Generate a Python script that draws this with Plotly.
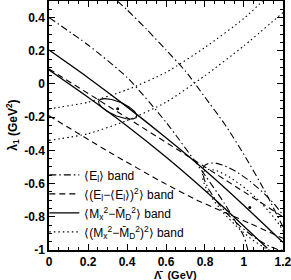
import numpy as np
import plotly.graph_objects as go

# ---- data ----
# <E_l> band (dash-dot)
el_left_x = [0.0, 0.2, 0.4, 0.6, 0.8, 0.9, 1.0, 1.02]
el_left_y = [0.40, 0.235, 0.04, -0.23, -0.55, -0.72, -0.92, -1.0]
el_right_x = [0.35, 0.4, 0.5, 0.6, 0.7, 0.8, 0.9, 1.0, 1.1, 1.2]
el_right_y = [0.50, 0.447, 0.33, 0.205, 0.077, -0.08, -0.24, -0.425, -0.63, -0.86]

# <(E_l-<E_l>)^2> band (dashed)
ev_upper_x = [0.0, 0.4, 0.8, 1.2]
ev_upper_y = [0.09, -0.204, -0.50, -0.80]
ev_lower_x = [0.0, 0.323, 0.585, 0.759, 1.03, 1.2]
ev_lower_y = [-0.192, -0.42, -0.594, -0.70, -0.84, -0.93]

# <M_x^2 - M_D^2> band (solid)
mx_upper_x = [0.0, 0.2, 0.4, 0.6, 0.8, 1.0, 1.2]
mx_upper_y = [0.204, 0.038, -0.138, -0.324, -0.52, -0.732, -0.954]
mx_lower_x = [0.0, 0.2, 0.4, 0.6, 0.8, 1.0, 1.12]
mx_lower_y = [0.084, -0.08, -0.253, -0.44, -0.642, -0.857, -0.99]

# <(M_x^2 - M_D^2)^2> band (dotted)
mv_upper_x = [0.0, 0.2, 0.4, 0.6, 0.8, 1.0, 1.1]
mv_upper_y = [-0.15, -0.11, -0.035, 0.07, 0.22, 0.395, 0.505]
mv_lower_x = [0.0, 0.2, 0.4, 0.6, 0.8, 1.0, 1.2]
mv_lower_y = [-0.34, -0.30, -0.22, -0.11, 0.05, 0.23, 0.43]

# ellipses: center, major-axis vector, minor-axis vector
ell_solid = dict(c=(0.352, -0.15), a=(0.097, -0.048), b=(0.014, 0.039))
ell_dashdot = dict(c=(1.025, -0.74), a=(0.225, -0.25), b=(0.072, 0.088))
ell_dot = dict(c=(1.01, -0.77), a=(0.215, -0.245), b=(0.06, 0.075))

best_points_x = [0.352, 1.03]
best_points_y = [-0.15, -0.745]

xtick_vals = [0, 0.2, 0.4, 0.6, 0.8, 1.0, 1.2]
xtick_text = ["0", "0.2", "0.4", "0.6", "0.8", "1", "1.2"]
ytick_vals = [0.4, 0.2, 0, -0.2, -0.4, -0.6, -0.8, -1.0]
ytick_text = ["0.4", "0.2", "0", "-0.2", "-0.4", "-0.6", "-0.8", "-1"]

x_title = "\u039b\u0304  (GeV)"
y_title = "\u03bb<sub>1</sub> (GeV<sup>2</sup>)"

legend_names = [
    "\u27e8E<sub>l</sub>\u27e9 band",
    "\u27e8(E<sub>l</sub>\u2212\u27e8E<sub>l</sub>\u27e9)<sup>2</sup>\u27e9 band",
    "\u27e8M<sub>x</sub><sup>2</sup>\u2212M\u0304<sub>D</sub><sup>2</sup>\u27e9 band",
    "\u27e8(M<sub>x</sub><sup>2</sup>\u2212M\u0304<sub>D</sub><sup>2</sup>)<sup>2</sup>\u27e9 band",
]

# ---- styles ----
DASHDOT = "7px,3px,1.5px,3px"
DASH = "6px,4px"
DOT = "1.5px,3px"
COL = "black"
LW = 1.1

fig = go.Figure()


def ellipse(e, n=200):
    t = np.linspace(0, 2 * np.pi, n)
    cx, cy = e["c"]
    ax, ay = e["a"]
    bx, by = e["b"]
    return cx + np.cos(t) * ax + np.sin(t) * bx, cy + np.cos(t) * ay + np.sin(t) * by


def add_line(x, y, dash, name=None, show=False, width=LW):
    fig.add_trace(go.Scatter(x=x, y=y, mode="lines", name=name, showlegend=show,
                             line=dict(color=COL, width=width, dash=dash, shape="spline", smoothing=0.6),
                             hoverinfo="skip"))


add_line(el_left_x, el_left_y, DASHDOT, legend_names[0], True)
add_line(el_right_x, el_right_y, DASHDOT)
add_line(ev_upper_x, ev_upper_y, DASH, legend_names[1], True)
add_line(ev_lower_x, ev_lower_y, DASH)
add_line(mx_upper_x, mx_upper_y, "solid", legend_names[2], True, 1.3)
add_line(mx_lower_x, mx_lower_y, "solid", None, False, 1.3)
add_line(mv_upper_x, mv_upper_y, DOT, legend_names[3], True)
add_line(mv_lower_x, mv_lower_y, DOT)

for e, d in [(ell_solid, "solid"), (ell_dashdot, DASHDOT), (ell_dot, DOT)]:
    ex, ey = ellipse(e)
    fig.add_trace(go.Scatter(x=ex, y=ey, mode="lines", showlegend=False,
                             line=dict(color=COL, width=LW, dash=d), hoverinfo="skip"))

fig.add_trace(go.Scatter(x=best_points_x, y=best_points_y, mode="markers", showlegend=False,
                         marker=dict(color=COL, size=3), hoverinfo="skip"))

FONT = "Liberation Sans, Arial, sans-serif"
axis_common = dict(
    showgrid=False, zeroline=False, showline=True, linecolor="black", linewidth=1.5,
    mirror="allticks", ticks="inside", ticklen=6, tickcolor="black", tickwidth=1,
    tickfont=dict(family=FONT, size=12, color="black", weight="bold"),
    automargin=False, ticklabeloverflow="allow",
)

fig.update_xaxes(range=[-0.0005, 1.2005], tickvals=xtick_vals, ticktext=xtick_text,
                 minor=dict(ticks="inside", dtick=0.05, ticklen=3, tickcolor="black"),
                 ticklabelstandoff=0,
                 **axis_common)
fig.update_yaxes(range=[-1.0005, 0.5], tickvals=ytick_vals, ticktext=ytick_text,
                 minor=dict(ticks="inside", dtick=0.05, ticklen=3, tickcolor="black"),
                 **axis_common)

fig.add_annotation(text=x_title, xref="paper", yref="paper", x=0.54, y=-0.1,
                   xanchor="center", yanchor="middle", showarrow=False,
                   font=dict(family=FONT, size=11, color="black", weight="bold"))
fig.add_annotation(text=y_title, xref="paper", yref="paper", x=-0.157, y=0.5,
                   xanchor="center", yanchor="middle", showarrow=False, textangle=-90,
                   font=dict(family=FONT, size=12, color="black", weight="bold"))

fig.update_layout(
    width=291, height=280,
    margin=dict(l=49, r=8, t=1, b=30),
    plot_bgcolor="white", paper_bgcolor="white",
    showlegend=True,
    legend=dict(x=-0.02, y=0.36, xanchor="left", yanchor="top", bgcolor="rgba(0,0,0,0)",
                font=dict(family=FONT, size=12, color="black"), itemwidth=30,
                tracegroupgap=0),
)

fig.write_html("out.html", config={"displayModeBar": False},
               post_script="document.body.style.margin='0';document.body.style.overflow='hidden';")
